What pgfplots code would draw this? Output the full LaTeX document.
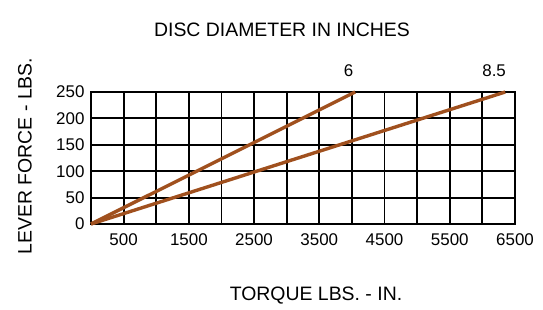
\documentclass[border=0pt]{standalone}
\usepackage{fontspec}
\setmainfont{Liberation Sans}
\usepackage{pgfplots}
\pgfplotsset{compat=1.18}
\definecolor{lbrown}{RGB}{160,80,30}
\begin{document}
\begin{tikzpicture}[x=1bp,y=1bp]
\path (0,0) rectangle (543,309);
\begin{axis}[
  at={(91bp,85bp)}, anchor=south west,
  scale only axis, width=424bp, height=132bp,
  xmin=0, xmax=6500, ymin=0, ymax=250,
  xtick={0,500,...,6500},
  xticklabels={,500,,1500,,2500,,3500,,4500,,5500,,6500},
  ytick={0,50,...,250},
  grid=major,
  major grid style={black, line width=1.9bp},
  axis line style={black, line width=2bp},
  major tick length=0pt,
  tick label style={font=\fontsize{17}{19}\selectfont},
  /pgf/number format/assume math mode=true,
  /pgf/number format/set thousands separator={},
  xticklabel style={yshift=-6bp},
  yticklabel style={xshift=-3bp},
  clip=false,
]
\addplot[lbrown, line width=3.4bp] coordinates {(0,0) (4050,250)};
\addplot[lbrown, line width=3.4bp] coordinates {(0,0) (6350,250)};
\node[font=\fontsize{17}{19}\selectfont] at (axis cs:3950,290) {6};
\node[font=\fontsize{17}{19}\selectfont] at (axis cs:6180,290) {8.5};
\end{axis}
\node[font=\fontsize{19.5}{22}\selectfont] at (282,279) {DISC DIAMETER IN INCHES};
\node[font=\fontsize{19.5}{22}\selectfont] at (316,13) {TORQUE LBS. - IN.};
\node[font=\fontsize{19.5}{22}\selectfont, rotate=90] at (25,153) {LEVER FORCE - LBS.};
\end{tikzpicture}
\end{document}
